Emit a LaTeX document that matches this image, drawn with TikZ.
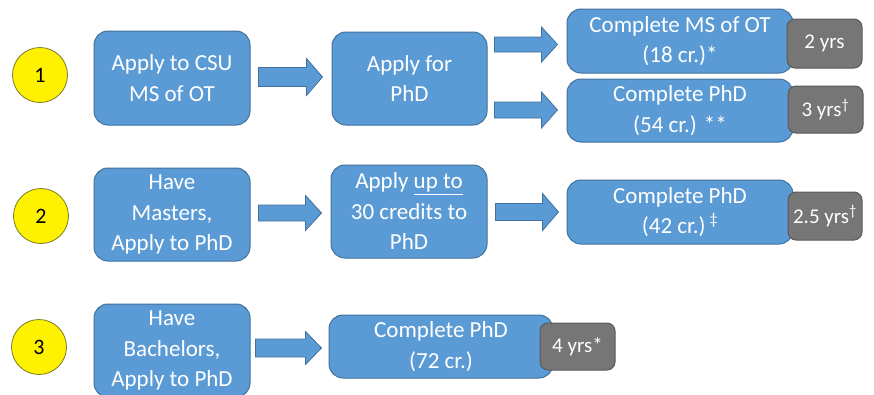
\documentclass[tikz,border=0pt]{standalone}
\usepackage{fontspec}
\setmainfont{Carlito}
\usetikzlibrary{calc}
\definecolor{boxblue}{HTML}{5B9BD5}
\definecolor{boxedge}{HTML}{41719C}
\definecolor{yrgray}{HTML}{767676}
\definecolor{yredge}{HTML}{595959}
\definecolor{circedge}{HTML}{7A7A2A}
\tikzset{
  bluebox/.style={draw=boxedge, line width=1pt, fill=boxblue, rounded corners=14pt,
    text=white, align=center, inner sep=0pt, font=\fontsize{23}{30.5}\selectfont},
  graybox/.style={draw=yredge, line width=1pt, fill=yrgray, rounded corners=8pt,
    text=white, align=center, inner sep=0pt, font=\fontsize{21}{26}\selectfont},
  numcirc/.style={circle, draw=circedge, line width=0.8pt, fill=yellow, inner sep=0pt,
    minimum size=55pt, font=\fontsize{22}{26}\selectfont},
  barrow/.style={draw=boxedge, line width=0.8pt, fill=boxblue, line join=miter}
}
% #1 from node, #2 to node, #3 y, #4 gap start, #5 gap end, #6 shaft half, #7 head half
\newcommand\blockarrow[7]{%
  \path[barrow] let \p1=(#1.east), \p2=(#2.west), \p3=(0,#3) in
   (\x1+#4pt,\y3+#6pt) -- (\x2-#5pt-16pt,\y3+#6pt) -- (\x2-#5pt-16pt,\y3+#7pt) --
   (\x2-#5pt,\y3) -- (\x2-#5pt-16pt,\y3-#7pt) -- (\x2-#5pt-16pt,\y3-#6pt) --
   (\x1+#4pt,\y3-#6pt) -- cycle;}
\begin{document}
\begin{tikzpicture}[x=1pt,y=-1pt]
\useasboundingbox[fill=white] (0,0) rectangle (874,394);
% circles
\node[numcirc] (c1) at (40,75) {1};
\node[numcirc] (c2) at (41,216) {2};
\node[numcirc] (c3) at (39,347) {3};
% row 1
\node[bluebox, minimum width=156pt, minimum height=94pt] (a1) at (172,78) {Apply to CSU\\MS of OT};
\node[bluebox, minimum width=155pt, minimum height=93pt] (b1) at (409.5,78.5) {Apply for\\PhD};
\node[bluebox, minimum width=226pt, minimum height=64pt] (d1) at (680,41) {Complete MS of OT\\(18 cr.)*};
\node[bluebox, minimum width=226pt, minimum height=63pt] (e1) at (680,110.5) {Complete PhD\\(54 cr.) **};
\node[graybox, minimum width=75pt, minimum height=49pt] (g1) at (824.5,43.5) {2 yrs};
\node[graybox, minimum width=75pt, minimum height=47pt] (g2) at (825.5,109.5) {3 yrs\textsuperscript{†}};
% row 2
\node[bluebox, minimum width=156pt, minimum height=93pt] (a2) at (172,214.5) {Have\\Masters,\\Apply to PhD};
\node[bluebox, minimum width=156pt, minimum height=93pt] (b2) at (409,211.5) {Apply \underline{up to}\\30 credits to\\PhD};
\node[bluebox, minimum width=226pt, minimum height=64pt] (d2) at (680,212) {Complete PhD\\(42 cr.)\,\textsuperscript{‡}};
\node[graybox, minimum width=74pt, minimum height=48pt] (g3) at (825,216) {2.5 yrs\textsuperscript{†}};
% row 3
\node[bluebox, minimum width=156pt, minimum height=93pt] (a3) at (172,350.5) {Have\\Bachelors,\\Apply to PhD};
\node[bluebox, minimum width=224pt, minimum height=63pt] (d3) at (441,346.5) {Complete PhD\\(72 cr.)};
\node[graybox, minimum width=75pt, minimum height=47pt] (g4) at (577.5,346.5) {4 yrs*};
% arrows
\blockarrow{a1}{b1}{77}{8}{9}{9.5}{18.5}
\blockarrow{b1}{d1}{44.5}{7}{9}{7.5}{17.5}
\blockarrow{b1}{e1}{110}{7}{9}{8}{18}
\blockarrow{a2}{b2}{213}{8}{9}{8}{17.5}
\blockarrow{b2}{d2}{212}{8}{8}{8.5}{18.5}
\blockarrow{a3}{d3}{348}{5}{7}{9}{16.5}
\end{tikzpicture}
\end{document}
